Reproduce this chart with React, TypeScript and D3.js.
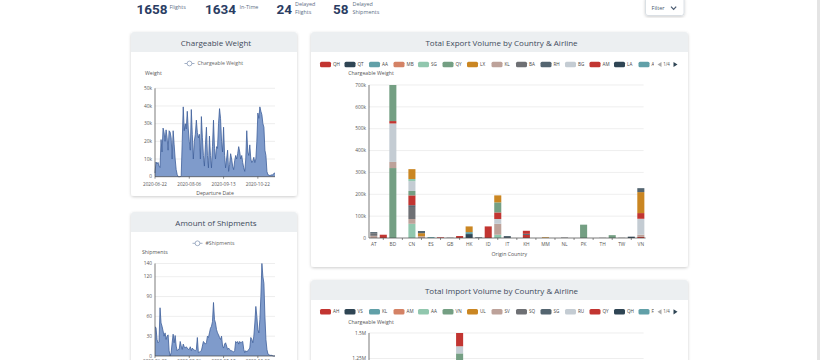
import React from 'react';
import * as d3 from 'd3';

const FONT = "'Open Sans', 'Noto Sans', sans-serif";

// ---------- KPI header ----------
const kpiValues = [1658, 1634, 24, 58];
const kpiLabels = [["Flights"], ["In-Time"], ["Delayed", "Flights"], ["Delayed", "Shipments"]];

// ---------- time series ----------
const dateLabels = ["2020-06-22", "2020-08-06", "2020-09-13", "2020-10-22"];
const dateLabelInterval = 34;

const weightValues = [
  2100, 8300, 7200, 8100, 6000, 5200, 21000, 14000, 27500, 25000,
  20000, 26500, 22000, 15000, 26000, 25200, 22000, 10000, 26000, 18000,
  10000, 4000, 1200, 0, 0, 0, 500, 20000, 39500, 26000,
  30000, 27000, 37000, 27000, 20000, 15000, 38000, 24000, 10000, 20000,
  24000, 32000, 25000, 22000, 24000, 10000, 34000, 22000, 12000, 6000,
  18000, 28000, 12000, 5000, 23000, 12000, 5000, 17000, 32000, 16000,
  10000, 17000, 16000, 30000, 38500, 33000, 20000, 14000, 28000, 12000,
  5000, 10000, 15000, 3000, 7000, 13000, 10000, 6000, 4000, 9000,
  12000, 10000, 13000, 17000, 14000, 10000, 12000, 8000, 5000, 3000,
  10000, 26000, 14000, 12000, 18000, 10000, 8000, 9000, 11000, 8000,
  10000, 20000, 36000, 33000, 39500, 37000, 35000, 30000, 28000, 15000,
  12000, 3000, 1000, 1000, 500, 1000, 1000, 1000, 2000, 2000,
];

const shipmentValues = [
  44, 43, 25, 20, 22, 73, 50, 45, 38, 30,
  35, 25, 30, 32, 8, 0, 5, 20, 33, 20,
  31, 15, 8, 10, 10, 22, 15, 10, 18, 14,
  12, 14, 12, 10, 10, 14, 8, 12, 10, 9,
  8, 10, 28, 5, 6, 7, 8, 15, 22, 20,
  18, 20, 30, 28, 35, 42, 45, 52, 81, 55,
  50, 40, 35, 32, 28, 25, 30, 15, 12, 18,
  20, 15, 10, 12, 10, 8, 8, 7, 6, 8,
  22, 20, 22, 18, 22, 20, 21, 22, 10, 5,
  8, 6, 8, 10, 12, 28, 25, 20, 30, 50,
  75, 60, 40, 35, 55, 90, 140, 120, 110, 60,
  25, 10, 3, 2, 1, 1, 1, 0, 0, 0,
];

const weightTicks = [0, 10000, 20000, 30000, 40000, 50000];
const shipmentTicks = [0, 30, 60, 90, 120, 140];

// ---------- stacked bars ----------
const palette = ['#c23531', '#2f4554', '#61a0a8', '#d48265', '#91c7ae', '#749f83', '#ca8622', '#bda29a', '#6e7074', '#546570', '#c4ccd3'];

const exportCountries = ["AT", "AU", "BD", "CH", "CN", "DE", "ES", "FR", "GB", "GR", "HK", "HU", "ID", "IN", "IT", "JP", "KH", "KR", "MM", "MY", "NL", "PH", "PK", "SG", "TH", "TR", "TW", "US", "VN"];
const exportAirlines = ["QH", "QT", "AA", "MB", "SG", "QY", "LX", "KL", "BA", "RH", "BG", "AM", "LA", "AY", "CX", "EK", "TK", "CI", "MH", "OZ", "KE", "CZ", "MU", "CA", "EY", "SQ", "TG", "LH", "AF", "NH", "BR", "ET", "JL", "AI", "QR", "UA", "DL", "AC", "SU", "PR", "GA", "MF", "HU", "3U"];
const exportRecords: [string, string, number][] = [
  ["AT", "KL", 10000], ["AT", "BA", 12000], ["AT", "RH", 5000],
  ["AU", "QH", 15000],
  ["BD", "QY", 320000], ["BD", "KL", 28000], ["BD", "BG", 176000], ["BD", "AM", 11000], ["BD", "TK", 165000],
  ["CN", "SG", 65000], ["CN", "KL", 22000], ["CN", "BA", 55000], ["CN", "RH", 8000], ["CN", "AM", 45000], ["CN", "TK", 20000], ["CN", "CZ", 45000], ["CN", "TG", 10000], ["CN", "AF", 45000],
  ["DE", "KL", 8000], ["DE", "CI", 14000], ["DE", "KE", 10000],
  ["ES", "AA", 4000],
  ["FR", "QH", 3000],
  ["GB", "BA", 1500],
  ["GR", "QH", 9000],
  ["HK", "QT", 18000], ["HK", "AA", 9000], ["HK", "LX", 26000],
  ["HU", "RH", 3000],
  ["ID", "QH", 53000],
  ["IN", "SG", 15000], ["IN", "KL", 50000], ["IN", "BG", 22000], ["IN", "AM", 30000], ["IN", "TK", 46000], ["IN", "CI", 32000],
  ["IT", "RH", 9000],
  ["KH", "QH", 14000], ["KH", "RH", 5000], ["KH", "AM", 14000],
  ["MM", "LX", 3000],
  ["NL", "BA", 2000],
  ["PK", "QY", 61000],
  ["TH", "BA", 1000],
  ["TR", "QY", 13000],
  ["TW", "BA", 1000],
  ["US", "QT", 6000],
  ["VN", "QH", 5000], ["VN", "KL", 10000], ["VN", "BG", 73000], ["VN", "AM", 26000], ["VN", "CI", 96000], ["VN", "KE", 18000],
];
const exportTicks = [0, 100000, 200000, 300000, 400000, 500000, 600000, 700000];

const importCountries = ["AE", "AT", "AU", "BE", "BR", "CA", "CH", "CN", "CZ", "DE", "DK", "ES", "FI", "FR", "GB", "HK", "ID", "IN", "IT", "JP", "KR", "MY", "NL", "SE", "SG", "TH", "TW", "US", "VN"];
const importAirlines = ["AH", "VS", "KL", "AM", "AA", "VN", "UL", "SV", "SQ", "SG", "RU", "QY", "QH", "FZ", "EK", "TK", "CX", "LH", "AF", "CI", "BR", "NH", "JL", "OZ", "KE", "MU", "CA", "ET", "QR", "SU", "LO", "TG", "MH", "GA", "PR", "CZ", "EY", "JJ", "LA", "TP", "DL", "AC", "UA", "AY"];
const importRecords: [string, string, number][] = [
  ["DE", "AA", 200000], ["DE", "VN", 1100000], ["DE", "RU", 70000], ["DE", "QY", 130000],
];
const importTicks = [0, 250000, 500000, 750000, 1000000, 1250000, 1500000];

const legendPageSize = 14;

function fmtK(v: number) {
  if (v === 0) return "0";
  if (v >= 1e6) return `${v / 1e6}M`;
  return `${v / 1e3}k`;
}

function Panel({ x, y, w, h, title }: any) {
  const hh = 20, r = 3;
  const d = `M${x},${y + hh} V${y + r} Q${x},${y} ${x + r},${y} H${x + w - r} Q${x + w},${y} ${x + w},${y + r} V${y + hh} Z`;
  return (
    <g>
      <rect x={x} y={y} width={w} height={h} rx={r} fill="#fff" filter="url(#shadow)" />
      <path d={d} fill="#eceff1" />
      <text x={x + w / 2 + 2} y={y + 11} dy="0.35em" textAnchor="middle" fontSize={8} fill="#3e4a5b" fontFamily={FONT}>{title}</text>
    </g>
  );
}

function TimeSeries({ values, yMax, yTicks, fmt, left, right, top, bottom, yName, yNameX, yNameY, legendName, legendX, legendY, xName, xNameY, xLabelY }: any) {
  const x = d3.scalePoint<number>().domain(d3.range(values.length)).range([left, right]);
  const y = d3.scaleLinear().domain([0, yMax]).range([bottom, top]);
  const area = d3.area<number>().x((_, i) => x(i)!).y0(bottom).y1(d => y(d));
  const line = d3.line<number>().x((_, i) => x(i)!).y(d => y(d));
  return (
    <g fontFamily={FONT}>
      {/* legend */}
      <line x1={legendX} x2={legendX + 10} y1={legendY} y2={legendY} stroke="#8c9cb8" strokeWidth={0.8} />
      <circle cx={legendX + 5} cy={legendY} r={2.4} fill="#fff" stroke="#8c9cb8" strokeWidth={0.8} />
      <text x={legendX + 13} y={legendY} dy="0.35em" fontSize={5.2} fill="#666">{legendName}</text>
      <text x={yNameX} y={yNameY} dy="0.35em" fontSize={5.2} fill="#555">{yName}</text>
      {yTicks.map((t: number) => (
        <g key={t}>
          {t > 0 && <line x1={left} x2={right} y1={y(t)} y2={y(t)} stroke="#e6e6e6" strokeWidth={0.7} />}
          <text x={left - 3} y={y(t)} dy="0.35em" textAnchor="end" fontSize={4.8} fill="#555">{fmt(t)}</text>
        </g>
      ))}
      <path d={area(values)!} fill="#7f9bcb" />
      <path d={line(values)!} fill="none" stroke="#3f5f9a" strokeWidth={0.8} />
      <line x1={left} x2={left} y1={top} y2={bottom} stroke="#444" strokeWidth={0.7} />
      <line x1={left} x2={right} y1={bottom} y2={bottom} stroke="#444" strokeWidth={0.7} />
      {dateLabels.map((lab, k) => {
        const xi = x(k * dateLabelInterval)!;
        return (
          <g key={lab}>
            <line x1={xi} x2={xi} y1={bottom} y2={bottom + 2} stroke="#444" strokeWidth={0.6} />
            <text x={xi} y={xLabelY} dy="0.35em" textAnchor="middle" fontSize={4.6} fill="#555">{lab}</text>
          </g>
        );
      })}
      {xName && <text x={(left + right) / 2} y={xNameY} dy="0.35em" textAnchor="middle" fontSize={5.2} fill="#555">{xName}</text>}
    </g>
  );
}

function StackedChart({ id, countries, airlines, records, yMax, yTicks, left, right, top, bottom, legendY, yNameY, showX, xLabelY, xName, xNameY }: any) {
  const table = countries.map((c: string) => {
    const row: any = { country: c };
    airlines.forEach((a: string) => { row[a] = 0; });
    return row;
  });
  records.forEach(([c, a, v]: [string, string, number]) => {
    table[countries.indexOf(c)][a] += v;
  });
  const layers = d3.stack<any>().keys(airlines)(table);
  const x = d3.scaleBand().domain(countries).range([left, right]).paddingInner(0.26).paddingOuter(0.13);
  const y = d3.scaleLinear().domain([0, yMax]).range([bottom, top]);
  const color = (i: number) => palette[i % palette.length];
  const stride = 24.5;
  const legendX0 = 320;
  const pages = Math.ceil(airlines.length / legendPageSize);
  return (
    <g fontFamily={FONT}>
      <defs>
        <clipPath id={`lc-${id}`}><rect x={312} y={legendY - 6} width={342} height={12} /></clipPath>
      </defs>
      <g clipPath={`url(#lc-${id})`}>
        {airlines.slice(0, legendPageSize).map((a: string, i: number) => {
          const lx = legendX0 + i * stride;
          return (
            <g key={a}>
              <rect x={lx} y={legendY - 2.8} width={11} height={5.6} rx={1.5} fill={color(i)} />
              <text x={lx + 13} y={legendY} dy="0.35em" fontSize={4.6} fill="#444">{a}</text>
            </g>
          );
        })}
      </g>
      <path d={`M661.5,${legendY - 2.6} L657.5,${legendY} L661.5,${legendY + 2.6} Z`} fill="#aaa" />
      <text x={663.2} y={legendY} dy="0.35em" fontSize={4.4} fill="#555">{`1/${pages}`}</text>
      <path d={`M673.5,${legendY - 2.6} L677.5,${legendY} L673.5,${legendY + 2.6} Z`} fill="#2f4554" />
      <text x={left + 2} y={yNameY} dy="0.35em" textAnchor="middle" fontSize={5.2} fill="#555">Chargeable Weight</text>
      {yTicks.map((t: number) => (
        <g key={t}>
          {t > 0 && <line x1={left} x2={right - 2} y1={y(t)} y2={y(t)} stroke="#e6e6e6" strokeWidth={0.7} />}
          <text x={left - 3} y={y(t)} dy="0.35em" textAnchor="end" fontSize={4.8} fill="#555">{fmtK(t)}</text>
        </g>
      ))}
      {layers.map((layer: any, li: number) => (
        <g key={layer.key} fill={color(li)}>
          {layer.map((d: any, ci: number) => (d[1] - d[0] > 0 ? (
            <rect key={ci} x={x(countries[ci])!} width={x.bandwidth()} y={y(d[1])} height={y(d[0]) - y(d[1])} />
          ) : null))}
        </g>
      ))}
      <line x1={left} x2={left} y1={top} y2={bottom} stroke="#444" strokeWidth={0.7} />
      {showX && (
        <g>
          <line x1={left} x2={right} y1={bottom} y2={bottom} stroke="#444" strokeWidth={0.7} />
          {countries.map((c: string, i: number) => {
            const cx = x(c)! + x.bandwidth() / 2;
            return i % 2 === 0 ? (
              <text key={c} x={cx} y={xLabelY} dy="0.35em" textAnchor="middle" fontSize={4.8} fill="#555">{c}</text>
            ) : (
              <line key={c} x1={cx} x2={cx} y1={bottom} y2={bottom + 2} stroke="#444" strokeWidth={0.6} />
            );
          })}
          <text x={(left + right) / 2 + 2} y={xNameY} dy="0.35em" textAnchor="middle" fontSize={5.2} fill="#555">{xName}</text>
        </g>
      )}
    </g>
  );
}

export default function App() {
  const kpiX = [136.5, 205, 276.5, 333];
  const kpiLabelX = [169.5, 239.5, 295, 352.5];
  return (
    <svg width={820} height={360} style={{ position: 'absolute', left: 0, top: 0, background: '#fff' }} fontFamily={FONT}>
      <defs>
        <filter id="shadow" x="-10%" y="-10%" width="120%" height="120%">
          <feDropShadow dx="0" dy="1" stdDeviation="1.4" floodColor="#000" floodOpacity="0.2" />
        </filter>
      </defs>
      <rect x={0} y={0} width={820} height={360} fill="#fff" />
      <rect x={817} y={0} width={3} height={360} fill="#e4e4e4" />

      {/* KPIs */}
      {kpiValues.map((v, i) => (
        <g key={i}>
          <text x={kpiX[i]} y={13.5} fontSize={13.5} fontWeight={700} fill="#2b3d63" fontFamily="Roboto, sans-serif">{v}</text>
          {kpiLabels[i].length === 1 ? (
            <text x={kpiLabelX[i]} y={9.3} fontSize={5.4} fill="#5d6d85">{kpiLabels[i][0]}</text>
          ) : (
            <g>
              <text x={kpiLabelX[i]} y={5.8} fontSize={5.4} fill="#5d6d85">{kpiLabels[i][0]}</text>
              <text x={kpiLabelX[i]} y={14.4} fontSize={5.4} fill="#5d6d85">{kpiLabels[i][1]}</text>
            </g>
          )}
        </g>
      ))}

      {/* Filter button */}
      <rect x={645.5} y={-3} width={38.5} height={18.5} rx={2.5} fill="#fff" stroke="#d3d9e0" strokeWidth={0.8} filter="url(#shadow)" />
      <text x={651.5} y={8} dy="0.35em" fontSize={5.6} fill="#4a5a70">Filter</text>
      <path d="M671,6.6 L673.6,9.4 L676.2,6.6" fill="none" stroke="#4a5a70" strokeWidth={1.2} />

      {/* Panels */}
      <Panel x={131} y={32} w={166} h={164} title="Chargeable Weight" />
      <Panel x={131} y={212} w={166} h={170} title="Amount of Shipments" />
      <Panel x={311} y={32} w={377} h={235} title="Total Export Volume by Country & Airline" />
      <Panel x={311} y={280} w={377} h={110} title="Total Import Volume by Country & Airline" />

      <TimeSeries values={weightValues} yMax={50000} yTicks={weightTicks} fmt={fmtK}
        left={155} right={275} top={88.3} bottom={176.7}
        yName="Weight" yNameX={145} yNameY={73}
        legendName="Chargeable Weight" legendX={184.5} legendY={63.5}
        xName="Departure Date" xNameY={193.3} xLabelY={184.3} />

      <TimeSeries values={shipmentValues} yMax={140} yTicks={shipmentTicks} fmt={(t: number) => `${t}`}
        left={155} right={275} top={263.5} bottom={356}
        yName="Shipments" yNameX={142} yNameY={252.3}
        legendName="#Shipments" legendX={192.5} legendY={243.3}
        xName={null} xNameY={0} xLabelY={361.5} />

      <StackedChart id="exp" countries={exportCountries} airlines={exportAirlines} records={exportRecords}
        yMax={700000} yTicks={exportTicks} left={369} right={645.6} top={85} bottom={238}
        legendY={64.5} yNameY={73} showX={true} xLabelY={244.5} xName="Origin Country" xNameY={254.5} />

      <StackedChart id="imp" countries={importCountries} airlines={importAirlines} records={importRecords}
        yMax={1500000} yTicks={importTicks} left={369} right={645.6} top={333} bottom={486}
        legendY={311.8} yNameY={321.7} showX={false} />
    </svg>
  );
}
